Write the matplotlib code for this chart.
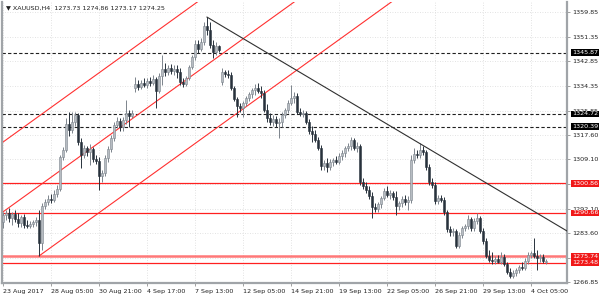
import matplotlib
matplotlib.use("Agg")
import matplotlib.pyplot as plt

plt.rcParams['font.family'] = ['DejaVu Sans']

# XAUUSD H4 candles, 23 Aug 2017 - 4 Oct 2017
opens = [
    1287.5, 1289.9, 1290.6, 1288.9, 1290.3, 1288.6, 1287.2, 1289.2, 1286.5, 1286.1,
    1286.8, 1287.5, 1288.2, 1280.3, 1293.0, 1294.4, 1295.4, 1295.1, 1297.2, 1298.9,
    1309.9, 1312.3, 1321.3, 1319.2, 1322.0, 1324.4, 1315.1, 1310.6, 1313.0, 1311.6,
    1312.7, 1309.2, 1308.5, 1303.4, 1304.4, 1309.6, 1312.7, 1316.5, 1320.9, 1322.3,
    1320.2, 1322.7, 1325.1, 1324.0, 1333.7, 1335.1, 1334.0, 1335.4, 1334.7, 1336.1,
    1335.4, 1336.8, 1332.7, 1337.8, 1340.2, 1339.2, 1340.6, 1339.5, 1340.2, 1339.2,
    1335.8, 1335.1, 1337.1, 1340.9, 1344.4, 1348.8, 1347.1, 1349.5, 1355.0, 1353.7,
    1348.5, 1346.1, 1348.2, 1335.8, 1339.2, 1338.5, 1338.2, 1333.7, 1329.9, 1327.5,
    1326.8, 1328.5, 1330.2, 1331.6, 1333.0, 1333.7, 1332.7, 1332.0, 1326.1, 1323.3,
    1322.0, 1323.0, 1321.6, 1322.0, 1324.4, 1326.1, 1328.5, 1330.2, 1330.9, 1325.4,
    1324.7, 1325.1, 1322.0, 1318.9, 1317.8, 1315.8, 1313.0, 1306.8, 1307.8, 1306.5,
    1308.2, 1308.9, 1308.2, 1310.3, 1311.3, 1313.0, 1313.7, 1315.8, 1313.0, 1313.7,
    1301.3, 1299.9, 1298.5, 1296.5, 1292.7, 1292.0, 1293.7, 1295.8, 1298.2, 1296.8,
    1297.5, 1296.1, 1293.0, 1294.1, 1295.4, 1294.4, 1295.1, 1308.9, 1311.0, 1310.6,
    1312.3, 1311.6, 1306.5, 1301.3, 1300.3, 1294.8, 1295.8, 1295.1, 1291.0, 1285.1,
    1284.1, 1284.4, 1279.3, 1283.0, 1285.5, 1286.1, 1288.6, 1285.5, 1287.9, 1288.9,
    1284.4, 1281.0, 1275.8, 1274.4, 1274.1, 1274.8, 1273.7, 1275.5, 1273.1, 1270.3,
    1268.9, 1270.0, 1271.0, 1272.0, 1271.7, 1274.1, 1276.2, 1276.8, 1275.8, 1275.1,
    1275.5, 1273.73,
]
highs = [
    1291.0, 1291.7, 1292.3, 1291.0, 1291.7, 1290.6, 1289.9, 1290.3, 1288.2, 1287.9,
    1288.2, 1289.2, 1291.7, 1294.1, 1295.4, 1296.8, 1297.2, 1298.5, 1300.3, 1310.6,
    1313.4, 1323.4, 1325.4, 1325.4, 1325.4, 1325.1, 1316.5, 1314.0, 1313.7, 1314.4,
    1313.4, 1310.6, 1309.9, 1305.4, 1310.6, 1313.7, 1317.5, 1322.0, 1323.7, 1323.4,
    1323.7, 1329.5, 1326.1, 1326.1, 1337.5, 1336.4, 1336.4, 1337.1, 1337.1, 1337.5,
    1338.2, 1337.5, 1338.9, 1345.1, 1342.3, 1341.6, 1342.0, 1341.6, 1341.6, 1340.6,
    1337.1, 1337.8, 1341.6, 1345.1, 1350.2, 1350.2, 1350.9, 1356.4, 1358.1, 1356.4,
    1350.2, 1349.5, 1348.5, 1340.6, 1339.9, 1339.9, 1339.2, 1334.4, 1330.6, 1328.5,
    1329.2, 1330.9, 1332.3, 1333.7, 1335.1, 1335.4, 1334.4, 1333.0, 1328.2, 1325.1,
    1324.4, 1324.0, 1323.3, 1325.4, 1326.8, 1329.5, 1334.7, 1332.3, 1332.0, 1326.8,
    1326.1, 1325.8, 1323.0, 1320.6, 1319.2, 1316.8, 1314.0, 1308.9, 1309.6, 1309.2,
    1309.6, 1310.3, 1311.3, 1312.3, 1313.7, 1314.7, 1316.8, 1316.5, 1315.1, 1314.4,
    1302.7, 1301.3, 1299.9, 1297.9, 1294.1, 1294.4, 1296.5, 1299.2, 1299.9, 1298.5,
    1298.2, 1298.2, 1294.8, 1296.5, 1296.8, 1296.5, 1310.6, 1313.0, 1312.3, 1314.7,
    1313.7, 1312.3, 1307.5, 1302.7, 1301.3, 1296.8, 1296.8, 1296.1, 1291.7, 1286.1,
    1285.5, 1285.1, 1284.1, 1286.1, 1286.8, 1289.9, 1289.2, 1288.9, 1290.6, 1289.6,
    1285.5, 1282.0, 1277.9, 1277.2, 1275.8, 1276.2, 1277.2, 1276.5, 1273.7, 1271.7,
    1271.0, 1271.7, 1272.7, 1273.7, 1275.1, 1277.2, 1277.5, 1282.0, 1277.9, 1276.5,
    1276.5, 1274.86,
]
lows = [
    1285.5, 1288.2, 1287.5, 1286.5, 1287.5, 1285.8, 1285.8, 1285.5, 1285.5, 1285.5,
    1285.8, 1286.1, 1275.8, 1277.9, 1292.0, 1293.4, 1294.1, 1294.4, 1296.1, 1298.2,
    1308.9, 1311.6, 1317.2, 1318.2, 1320.6, 1314.0, 1306.1, 1309.6, 1310.3, 1307.2,
    1308.2, 1307.5, 1298.5, 1301.3, 1303.4, 1308.2, 1311.6, 1315.4, 1319.9, 1318.9,
    1318.9, 1321.3, 1320.2, 1323.4, 1332.3, 1333.0, 1333.3, 1334.0, 1333.7, 1334.4,
    1334.7, 1326.8, 1332.0, 1334.7, 1337.8, 1338.2, 1338.5, 1338.2, 1337.1, 1334.7,
    1334.0, 1334.4, 1336.4, 1340.2, 1343.3, 1345.7, 1346.4, 1348.5, 1351.9, 1347.5,
    1344.0, 1345.1, 1346.1, 1334.7, 1337.5, 1337.1, 1333.0, 1329.2, 1323.7, 1325.4,
    1323.7, 1327.5, 1329.2, 1330.2, 1331.3, 1332.0, 1330.2, 1325.4, 1322.0, 1320.9,
    1320.6, 1320.2, 1316.5, 1320.2, 1323.3, 1325.1, 1327.8, 1328.5, 1324.7, 1324.0,
    1323.7, 1321.3, 1317.8, 1315.1, 1315.1, 1312.3, 1305.4, 1305.4, 1304.7, 1305.4,
    1306.8, 1307.5, 1307.5, 1308.9, 1309.9, 1312.0, 1312.3, 1312.3, 1311.6, 1300.3,
    1298.9, 1297.5, 1295.4, 1288.9, 1291.0, 1291.0, 1292.3, 1295.1, 1296.1, 1295.4,
    1295.1, 1289.9, 1291.7, 1292.7, 1293.4, 1291.7, 1294.1, 1307.8, 1309.6, 1309.6,
    1310.6, 1305.4, 1300.3, 1299.2, 1293.7, 1293.7, 1294.4, 1289.9, 1284.1, 1282.7,
    1282.7, 1278.6, 1278.6, 1282.0, 1284.4, 1285.1, 1284.4, 1284.4, 1286.8, 1283.7,
    1279.9, 1275.1, 1273.7, 1273.1, 1273.1, 1273.4, 1273.1, 1272.4, 1269.6, 1268.2,
    1268.2, 1268.9, 1270.0, 1271.0, 1271.0, 1273.1, 1275.1, 1275.1, 1271.0, 1273.7,
    1273.4, 1273.17,
]
closes = [
    1289.9, 1290.6, 1288.9, 1290.3, 1288.6, 1287.2, 1289.2, 1286.5, 1286.1, 1286.8,
    1287.5, 1288.2, 1280.3, 1293.0, 1294.4, 1295.4, 1295.1, 1297.2, 1298.9, 1309.9,
    1312.3, 1321.3, 1319.2, 1322.0, 1324.4, 1315.1, 1310.6, 1313.0, 1311.6, 1312.7,
    1309.2, 1308.5, 1303.4, 1304.4, 1309.6, 1312.7, 1316.5, 1320.9, 1322.3, 1320.2,
    1322.7, 1325.1, 1324.0, 1325.1, 1335.1, 1334.0, 1335.4, 1334.7, 1336.1, 1335.4,
    1336.8, 1332.7, 1337.8, 1340.2, 1339.2, 1340.6, 1339.5, 1340.2, 1339.2, 1335.8,
    1335.1, 1337.1, 1340.9, 1344.4, 1348.8, 1347.1, 1349.5, 1355.0, 1353.7, 1348.5,
    1346.1, 1348.2, 1346.8, 1339.2, 1338.5, 1338.2, 1333.7, 1329.9, 1327.5, 1326.8,
    1328.5, 1330.2, 1331.6, 1333.0, 1333.7, 1332.7, 1332.0, 1326.1, 1323.3, 1322.0,
    1323.0, 1321.6, 1322.0, 1324.4, 1326.1, 1328.5, 1330.2, 1330.9, 1325.4, 1324.7,
    1325.1, 1322.0, 1318.9, 1317.8, 1315.8, 1313.0, 1306.8, 1307.8, 1306.5, 1308.2,
    1308.9, 1308.2, 1310.3, 1311.3, 1313.0, 1313.7, 1315.8, 1313.0, 1313.7, 1301.3,
    1299.9, 1298.5, 1296.5, 1292.7, 1292.0, 1293.7, 1295.8, 1298.2, 1296.8, 1297.5,
    1296.1, 1293.0, 1294.1, 1295.4, 1294.4, 1295.1, 1308.9, 1311.0, 1310.6, 1312.3,
    1311.6, 1306.5, 1301.3, 1300.3, 1294.8, 1295.8, 1295.1, 1291.0, 1285.1, 1284.1,
    1284.4, 1279.3, 1283.0, 1285.5, 1286.1, 1288.6, 1285.5, 1287.9, 1288.9, 1284.4,
    1281.0, 1275.8, 1274.4, 1274.1, 1274.8, 1273.7, 1275.5, 1273.1, 1270.3, 1268.9,
    1270.0, 1271.0, 1272.0, 1271.7, 1274.1, 1276.2, 1276.8, 1275.8, 1275.1, 1275.5,
    1274.1, 1274.25,
]

time_labels = ["23 Aug 2017", "28 Aug 05:00", "30 Aug 21:00", "4 Sep 17:00",
               "7 Sep 13:00", "12 Sep 05:00", "14 Sep 21:00", "19 Sep 13:00",
               "22 Sep 05:00", "26 Sep 21:00", "29 Sep 13:00", "4 Oct 05:00"]
price_ticks = [1359.85, 1351.35, 1342.85, 1334.35, 1325.85, 1317.60,
               1309.10, 1300.60, 1292.10, 1283.60, 1275.10, 1266.85]
# tick labels that sit fully under a level box are not visible in the chart
hidden_ticks = [1300.60, 1275.10]

dashed_levels = [1345.87, 1324.72, 1320.39]
red_levels = [1300.86, 1290.66, 1275.74, 1273.48]

# channel: three parallel rays (start bar, start price), common slope per bar
channel_starts = [(-0.33, 1314.8), (0, 1291.0), (12, 1275.8)]
channel_slope = 0.745
# falling trend line from the 8 Sep high
trend_start = (68, 1358.1)
trend_slope = -0.614

header = "▼ XAUUSD,H4  1273.73 1274.86 1273.17 1274.25"

fig = plt.figure(figsize=(6, 3), dpi=100)
ax = fig.add_axes([2 / 600, 17 / 300, 565 / 600, 281 / 300])
x0, x1 = -0.33, 188
y0, y1 = 1266.5, 1363.3
ax.set_xlim(x0, x1)
ax.set_ylim(y0, y1)

# grid
ax.set_xticks(range(0, 16 * len(time_labels), 16))
ax.set_xticklabels(time_labels)
ax.set_yticks(price_ticks)
ax.set_yticklabels(["" if p in hidden_ticks else "%.2f" % p for p in price_ticks])
ax.yaxis.tick_right()
ax.grid(True, color='#d9d9d9', linestyle=(0, (1, 2)), linewidth=0.6)
ax.set_axisbelow(True)
ax.tick_params(axis='both', labelsize=4.6, length=2.5, width=0.6,
               color='#909090', pad=1.5, labelcolor='#202020')
for lab in ax.get_xticklabels():
    lab.set_horizontalalignment('left')

for s in ['left', 'right', 'bottom']:
    ax.spines[s].set_color('#a0a4a8')
    ax.spines[s].set_linewidth(1.6)
ax.spines['top'].set_visible(False)

# levels
for lvl in dashed_levels:
    ax.axhline(lvl, color='#202020', linestyle=(0, (3, 2)), linewidth=0.8, zorder=2)
for lvl in red_levels:
    if lvl == 1275.74:
        ax.axhline(lvl, color='#ff7878', linewidth=1.8, zorder=2)
    else:
        ax.axhline(lvl, color='#ff2020', linewidth=0.9, zorder=2)

# channel and trend lines
for bx, bp in channel_starts:
    xe = bx + (y1 + 5 - bp) / channel_slope
    ax.plot([bx, xe], [bp, bp + channel_slope * (xe - bx)], color='#ff3030',
            linewidth=0.8, zorder=2)
tx, tp = trend_start
ax.plot([tx, x1], [tp, tp + trend_slope * (x1 - tx)], color='#303030',
        linewidth=0.8, zorder=4)

# candles
for i in range(len(closes)):
    o, h, l, c = opens[i], highs[i], lows[i], closes[i]
    up = c >= o
    body = '#b7bcc2' if up else '#28323c'
    edge = '#7c848c' if up else '#28323c'
    ax.vlines(i, l, h, color=edge, linewidth=0.7, zorder=3)
    ax.bar(i, max(abs(c - o), 0.25), bottom=min(o, c), width=0.72,
           color=body, edgecolor=edge, linewidth=0.4, zorder=3.1)

# right side price boxes
tr = ax.get_yaxis_transform()
for lvl in dashed_levels:
    ax.text(1.009, lvl, "%.2f" % lvl, transform=tr, fontsize=4.6, color='white',
            va='center', ha='left', clip_on=False, zorder=6,
            bbox=dict(boxstyle='square,pad=0.12', facecolor='black', edgecolor='none'))
for lvl in red_levels:
    ax.text(1.009, lvl, "%.2f" % lvl, transform=tr, fontsize=4.6, color='white',
            va='center', ha='left', clip_on=False, zorder=6,
            bbox=dict(boxstyle='square,pad=0.12', facecolor='#f01818', edgecolor='none'))

fig.text(6 / 600, 1 - 8 / 300, header, fontsize=4.6, color='#202020', va='center', ha='left')

fig.savefig("out.png", dpi=100)
